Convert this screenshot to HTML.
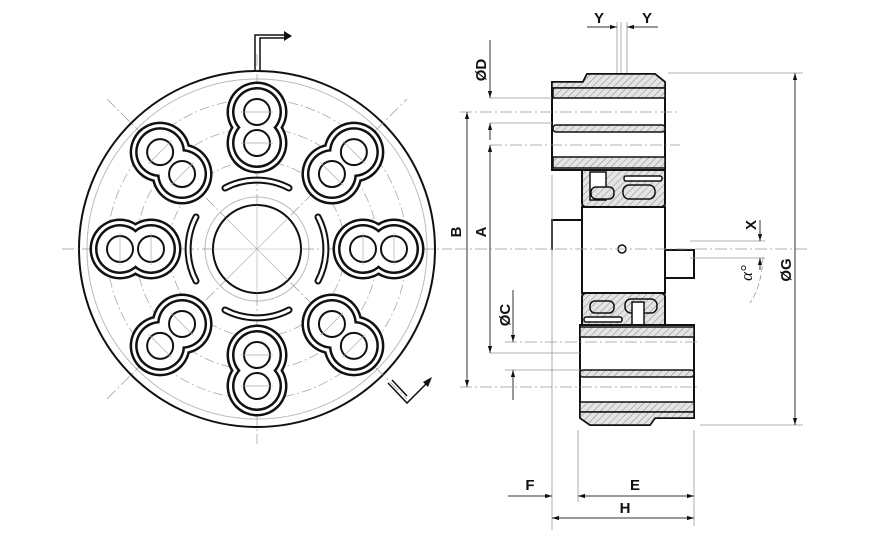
<!DOCTYPE html>
<html><head><meta charset="utf-8"><style>
html,body{margin:0;padding:0;background:#fff;}
svg{display:block}
text{font-family:"Liberation Sans",sans-serif;font-weight:bold;font-size:15px;fill:#111}
</style></head><body>
<svg width="880" height="540" viewBox="0 0 880 540" xmlns="http://www.w3.org/2000/svg">
<defs>
<pattern id="h" width="5" height="5" patternUnits="userSpaceOnUse" patternTransform="rotate(45)">
<rect width="5" height="5" fill="#e4e4e4"/><line x1="0" y1="0" x2="0" y2="5" stroke="#888" stroke-width="1"/></pattern>
<marker id="a" viewBox="0 0 10 10" refX="10" refY="5" markerWidth="7" markerHeight="7" orient="auto-start-reverse"><path d="M0,2 L10,5 L0,8z" fill="#111"/></marker>
<g id="pk">
 <circle cx="0" cy="-137" r="30.5" fill="#111"/><circle cx="0" cy="-106" r="30.5" fill="#111"/>
 <circle cx="0" cy="-137" r="28" fill="#fff"/><circle cx="0" cy="-106" r="28" fill="#fff"/>
 <circle cx="0" cy="-137" r="25" fill="#111"/><circle cx="0" cy="-106" r="25" fill="#111"/>
 <circle cx="0" cy="-137" r="22.5" fill="#fff"/><circle cx="0" cy="-106" r="22.5" fill="#fff"/>
 <circle cx="0" cy="-137" r="13" fill="none" stroke="#111" stroke-width="2"/>
 <circle cx="0" cy="-106" r="13" fill="none" stroke="#111" stroke-width="2"/>
 <line x1="-16" y1="-137" x2="16" y2="-137" stroke="#aaa" stroke-width="0.7"/>
 <line x1="-16" y1="-106" x2="16" y2="-106" stroke="#aaa" stroke-width="0.7"/>
</g>
<g id="arc">
 <path d="M-32,-61 A69,69 0 0 1 32,-61" fill="none" stroke="#111" stroke-width="7" stroke-linecap="round"/>
 <path d="M-32,-61 A69,69 0 0 1 32,-61" fill="none" stroke="#fff" stroke-width="3" stroke-linecap="round"/>
</g>
</defs>

<g transform="translate(257,249)">
 <circle r="178" fill="#fff" stroke="#111" stroke-width="2"/>
 <circle r="170" fill="none" stroke="#bbb" stroke-width="1"/>
 <circle r="150" fill="none" stroke="#aaa" stroke-width="0.8" stroke-dasharray="10,3,2,3"/>
 <circle r="121" fill="none" stroke="#aaa" stroke-width="0.8" stroke-dasharray="10,3,2,3"/>
 <circle r="88" fill="none" stroke="#aaa" stroke-width="0.8" stroke-dasharray="10,3,2,3"/>
 <circle r="52" fill="none" stroke="#bbb" stroke-width="1"/>
 <g stroke="#999" stroke-width="0.7" stroke-dasharray="12,3,2,3">
  <line x1="-195" y1="0" x2="195" y2="0"/><line x1="0" y1="-195" x2="0" y2="195"/>
  <line x1="-150" y1="150" x2="150" y2="-150"/><line x1="-150" y1="-150" x2="150" y2="150"/>
 </g>
 <use href="#pk"/><use href="#pk" transform="rotate(45)"/><use href="#pk" transform="rotate(90)"/><use href="#pk" transform="rotate(135)"/>
 <use href="#pk" transform="rotate(180)"/><use href="#pk" transform="rotate(225)"/><use href="#pk" transform="rotate(270)"/><use href="#pk" transform="rotate(315)"/>
 <use href="#arc"/><use href="#arc" transform="rotate(90)"/><use href="#arc" transform="rotate(180)"/><use href="#arc" transform="rotate(270)"/>
 <circle r="44" fill="#fff" stroke="#111" stroke-width="2"/>
 <g stroke="#aaa" stroke-width="0.6"><line x1="-44" y1="0" x2="44" y2="0"/><line x1="0" y1="-44" x2="0" y2="44"/><line x1="-31" y1="31" x2="31" y2="-31"/><line x1="-31" y1="-31" x2="31" y2="31"/></g>
</g>
<path d="M255,70 V35 H286" fill="none" stroke="#111" stroke-width="1.5"/>
<path d="M260,70 V38 H286" fill="none" stroke="#111" stroke-width="1.5"/>
<path d="M284,31 L292,36 L284,41z" fill="#111"/>
<path d="M388,383 L407,403 L427,383" fill="none" stroke="#111" stroke-width="1.5"/>
<path d="M392,380 L407,396" fill="none" stroke="#111" stroke-width="1.5"/>
<path d="M423,382 L432,377 L428,387z" fill="#111"/>

<g stroke="#111" stroke-width="2">
 <path d="M552,82 H583 L587,74 H655 L665,82 V170 H552z" fill="#fff"/>
 <path d="M587,74 H655 L665,82 V88 H552 V82 H583z" fill="url(#h)" stroke-width="1.5"/>
 <rect x="553" y="88" width="112" height="10" fill="url(#h)" stroke-width="1.5"/>
 <rect x="553" y="125" width="112" height="7" rx="3" fill="url(#h)" stroke-width="1.5"/>
 <rect x="553" y="157" width="112" height="11" fill="url(#h)" stroke-width="1.5"/>
 <path d="M582,170 H665 V203 Q665,207 660,207 H587 Q582,207 582,203z" fill="url(#h)"/>
 <rect x="590" y="172" width="16" height="28" fill="#fff" stroke-width="1.5"/>
 <rect x="591" y="187" width="23" height="12" rx="5" fill="url(#h)" stroke-width="1.5"/>
 <rect x="623" y="185" width="32" height="14" rx="6" fill="url(#h)" stroke-width="1.5"/>
 <rect x="624" y="176" width="38" height="5" rx="2" fill="#fff" stroke-width="1.5"/>
 <rect x="582" y="207" width="83" height="86" fill="#fff"/>
 <path d="M582,220 H552 V250" fill="none"/>
 <path d="M665,250 H694 V278 H665" fill="none"/>
 <circle cx="622" cy="249" r="4" fill="#fff" stroke-width="1.5"/>
 <path d="M582,297 Q582,293 587,293 H660 Q665,293 665,297 V325 H582z" fill="url(#h)"/>
 <rect x="590" y="301" width="24" height="12" rx="5" fill="url(#h)" stroke-width="1.5"/>
 <rect x="625" y="299" width="32" height="14" rx="6" fill="url(#h)" stroke-width="1.5"/>
 <rect x="584" y="317" width="38" height="5" rx="2" fill="#fff" stroke-width="1.5"/>
 <rect x="632" y="302" width="12" height="23" fill="#fff" stroke-width="1.5"/>
 <path d="M580,325 H694 V418 H655 L650,425 H590 L580,418z" fill="#fff"/>
 <rect x="580" y="327" width="114" height="10" fill="url(#h)" stroke-width="1.5"/>
 <rect x="580" y="370" width="114" height="7" rx="3" fill="url(#h)" stroke-width="1.5"/>
 <rect x="580" y="402" width="114" height="10" fill="url(#h)" stroke-width="1.5"/>
 <path d="M580,412 H694 V418 H655 L650,425 H590 L580,418z" fill="url(#h)" stroke-width="1.5"/>
</g>

<g stroke="#999" stroke-width="0.8" fill="none">
 <line x1="455" y1="249" x2="810" y2="249" stroke-dasharray="12,3,2,3"/>
 <line x1="460" y1="112" x2="680" y2="112" stroke-dasharray="12,3,2,3"/>
 <line x1="490" y1="145" x2="680" y2="145" stroke-dasharray="12,3,2,3"/>
 <line x1="490" y1="98" x2="552" y2="98"/>
 <line x1="490" y1="123" x2="552" y2="123"/>
 <line x1="505" y1="342" x2="700" y2="342" stroke-dasharray="12,3,2,3"/>
 <line x1="490" y1="353" x2="580" y2="353"/>
 <line x1="505" y1="370" x2="580" y2="370"/>
 <line x1="460" y1="387" x2="700" y2="387" stroke-dasharray="12,3,2,3"/>
 <line x1="668" y1="73" x2="803" y2="73"/>
 <line x1="700" y1="425" x2="803" y2="425"/>
 <line x1="552" y1="175" x2="552" y2="530"/>
 <line x1="578" y1="430" x2="578" y2="502"/>
 <line x1="694" y1="430" x2="694" y2="526"/>
 <line x1="617" y1="22" x2="617" y2="73"/><line x1="621" y1="22" x2="621" y2="73"/><line x1="627" y1="22" x2="627" y2="73"/>
 <line x1="690" y1="241" x2="765" y2="241"/><line x1="690" y1="258" x2="765" y2="258"/>
 <path d="M763,257 Q762,285 750,303" stroke-dasharray="6,3"/>
</g>
<g stroke="#333" stroke-width="1" fill="none">
 <line x1="467" y1="112" x2="467" y2="387" marker-start="url(#a)" marker-end="url(#a)"/>
 <line x1="490" y1="145" x2="490" y2="353" marker-start="url(#a)" marker-end="url(#a)"/>
 <line x1="490" y1="40" x2="490" y2="98" marker-end="url(#a)"/>
 <line x1="490" y1="140" x2="490" y2="123" marker-end="url(#a)"/>
 <line x1="513" y1="290" x2="513" y2="342" marker-end="url(#a)"/>
 <line x1="513" y1="400" x2="513" y2="370" marker-end="url(#a)"/>
 <line x1="795" y1="73" x2="795" y2="425" marker-start="url(#a)" marker-end="url(#a)"/>
 <line x1="760" y1="220" x2="760" y2="241" marker-end="url(#a)"/>
 <line x1="760" y1="270" x2="760" y2="258" marker-end="url(#a)"/>
 <line x1="508" y1="496" x2="552" y2="496" marker-end="url(#a)"/>
 <line x1="578" y1="496" x2="694" y2="496" marker-start="url(#a)" marker-end="url(#a)"/>
 <line x1="552" y1="518" x2="694" y2="518" marker-start="url(#a)" marker-end="url(#a)"/>
 <line x1="587" y1="27" x2="617" y2="27" marker-end="url(#a)"/>
 <line x1="658" y1="27" x2="627" y2="27" marker-end="url(#a)"/>
</g>
<text x="599" y="23" text-anchor="middle">Y</text>
<text x="647" y="23" text-anchor="middle">Y</text>
<text transform="translate(486,70) rotate(-90)" text-anchor="middle">ØD</text>
<text transform="translate(461,232) rotate(-90)" text-anchor="middle">B</text>
<text transform="translate(486,232) rotate(-90)" text-anchor="middle">A</text>
<text transform="translate(510,315) rotate(-90)" text-anchor="middle">ØC</text>
<text transform="translate(756,225) rotate(-90)" text-anchor="middle">X</text>
<text transform="translate(791,270) rotate(-90)" text-anchor="middle">ØG</text>
<text transform="translate(752,273) rotate(-90)" text-anchor="middle" style="font-family:'Liberation Serif',serif;font-style:italic;font-weight:normal;font-size:17px">α°</text>
<text x="530" y="490" text-anchor="middle">F</text>
<text x="635" y="490" text-anchor="middle">E</text>
<text x="625" y="513" text-anchor="middle">H</text>
</svg>
</body></html>
